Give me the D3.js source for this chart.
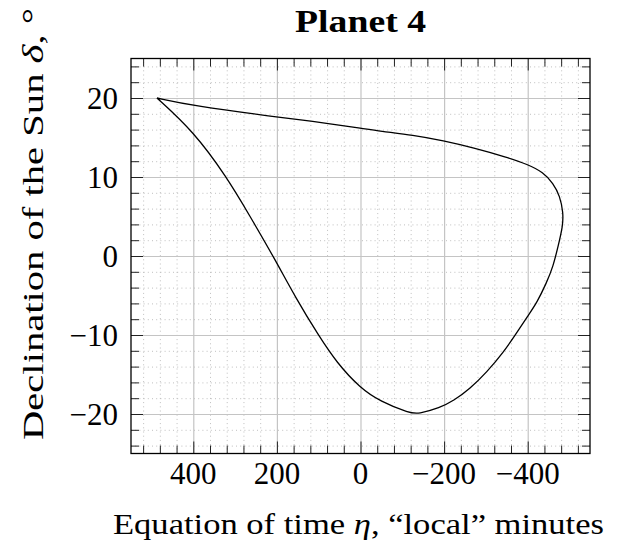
<!DOCTYPE html>
<html>
<head>
<meta charset="utf-8">
<script src="https://cdn.jsdelivr.net/npm/d3@7"></script>
<style>
  body { margin: 0; background: #fff; }
  svg { display: block; }
  text { font-family: "Liberation Serif", "DejaVu Serif", serif; fill: #000; }
</style>
</head>
<body>
<div id="chart"></div>
<script>
// analemma: equation of time (local minutes) vs solar declination (deg)
var etaMin = [487, 400, 320, 264, 209, 153, 101, 57, 1, -47, -118, -138, -190, -222, -262, -302, -342, -374,
              -400, -422, -445, -461, -473, -484, -485, -477, -461, -437, -400, -350, -270, -198, -126, -47, 2, 121, 201, 400, 487];
var declDeg = [20.0, 15.8, 10.0, 5.0, 0.0, -5.5, -10.0, -13.5, -16.7, -18.4, -19.9, -20.0, -19.2, -18.35, -16.8, -14.7, -12.2, -9.7,
               -7.6, -5.9, -3.4, -1.3, 1.3, 3.8, 5.5, 7.6, 9.2, 10.6, 11.6, 12.5, 13.7, 14.6, 15.3, 15.8, 16.2, 17.1, 17.6, 19.0, 20.0];

var xTicks = [400, 200, 0, -200, -400];
var xTickLabels = ['400', '200', '0', '\u2212200', '\u2212400'];
var yTicks = [-20, -10, 0, 10, 20];
var yTickLabels = ['\u221220', '\u221210', '0', '10', '20'];
var xMinor = [520, 480, 440, 360, 320, 280, 240, 160, 120, 80, 40, -40, -80, -120, -160,
              -240, -280, -320, -360, -440, -480, -520];
var yMinor = [-24, -22, -18, -16, -14, -12, -8, -6, -4, -2, 2, 4, 6, 8, 12, 14, 16, 18, 22, 24];

var W = 619, H = 542;
var L = 131, R = 590, T = 58.5, B = 453.5;

var x = d3.scaleLinear().domain([549, -549]).range([L, R]);
var y = d3.scaleLinear().domain([-25, 25]).range([B, T]);

var svg = d3.select('#chart').append('svg')
  .attr('width', W).attr('height', H);

// minor grid (dotted)
svg.append('g')
  .attr('transform', 'translate(0,' + B + ')')
  .call(d3.axisBottom(x).tickValues(xMinor).tickSize(-(B - T)).tickFormat(''))
  .call(function(g) {
    g.select('.domain').remove();
    g.selectAll('line').attr('stroke', '#b8b8b8').attr('stroke-width', 0.9).attr('stroke-dasharray', '1,3.2');
  });
svg.append('g')
  .attr('transform', 'translate(' + L + ',0)')
  .call(d3.axisLeft(y).tickValues(yMinor).tickSize(-(R - L)).tickFormat(''))
  .call(function(g) {
    g.select('.domain').remove();
    g.selectAll('line').attr('stroke', '#b8b8b8').attr('stroke-width', 0.9).attr('stroke-dasharray', '1,3.2');
  });

// major grid
svg.append('g')
  .attr('transform', 'translate(0,' + B + ')')
  .call(d3.axisBottom(x).tickValues(xTicks).tickSize(-(B - T)).tickFormat(''))
  .call(function(g) {
    g.select('.domain').remove();
    g.selectAll('line').attr('stroke', '#c4c4c4').attr('stroke-width', 1.2);
  });
svg.append('g')
  .attr('transform', 'translate(' + L + ',0)')
  .call(d3.axisLeft(y).tickValues(yTicks).tickSize(-(R - L)).tickFormat(''))
  .call(function(g) {
    g.select('.domain').remove();
    g.selectAll('line').attr('stroke', '#c4c4c4').attr('stroke-width', 1.2);
  });

// the curve
var line = d3.line()
  .x(function(d) { return x(d[0]); })
  .y(function(d) { return y(d[1]); })
  .curve(d3.curveBasis);

svg.append('path')
  .datum(d3.zip(etaMin, declDeg))
  .attr('d', line)
  .attr('fill', 'none')
  .attr('stroke', '#000')
  .attr('stroke-width', 1.3)
  .attr('stroke-linejoin', 'miter');

// inward ticks on all four sides
function tickStyle(g) {
  g.select('.domain').remove();
  g.selectAll('line').attr('stroke', '#222').attr('stroke-width', 1);
}
[[d3.axisBottom, B, xTicks, 12], [d3.axisBottom, B, xMinor, 8],
 [d3.axisTop, T, xTicks, 12], [d3.axisTop, T, xMinor, 8]].forEach(function(a) {
  svg.append('g')
    .attr('transform', 'translate(0,' + a[1] + ')')
    .call(a[0](x).tickValues(a[2]).tickSize(-a[3]).tickFormat(''))
    .call(tickStyle);
});
[[d3.axisLeft, L, yTicks, 12], [d3.axisLeft, L, yMinor, 8],
 [d3.axisRight, R, yTicks, 12], [d3.axisRight, R, yMinor, 8]].forEach(function(a) {
  svg.append('g')
    .attr('transform', 'translate(' + a[1] + ',0)')
    .call(a[0](y).tickValues(a[2]).tickSize(-a[3]).tickFormat(''))
    .call(tickStyle);
});

// axis box
svg.append('rect')
  .attr('x', L).attr('y', T)
  .attr('width', R - L).attr('height', B - T)
  .attr('fill', 'none').attr('stroke', '#000').attr('stroke-width', 1.3);

// tick labels
svg.append('g').selectAll('text')
  .data(xTicks)
  .enter().append('text')
  .attr('x', function(d) { return x(d); })
  .attr('y', 484)
  .attr('text-anchor', 'middle')
  .style('font-size', '31px')
  .text(function(d, i) { return xTickLabels[i]; });

svg.append('g').selectAll('text')
  .data(yTicks)
  .enter().append('text')
  .attr('x', 118)
  .attr('y', function(d) { return y(d) + 10.5; })
  .attr('text-anchor', 'end')
  .style('font-size', '31px')
  .text(function(d, i) { return yTickLabels[i]; });

// labels
svg.append('text')
  .attr('x', 360.5).attr('y', 32)
  .attr('text-anchor', 'middle')
  .attr('textLength', 131).attr('lengthAdjust', 'spacingAndGlyphs')
  .style('font-size', '32px').style('font-weight', 'bold')
  .text('Planet 4');

svg.append('text')
  .attr('x', 113).attr('y', 534)
  .attr('textLength', 491).attr('lengthAdjust', 'spacingAndGlyphs')
  .style('font-size', '30px')
  .html('Equation of time <tspan font-style="italic">\u03b7</tspan>, \u201clocal\u201d minutes');

svg.append('text')
  .attr('transform', 'translate(43,440) rotate(-90)')
  .attr('textLength', 432).attr('lengthAdjust', 'spacingAndGlyphs')
  .style('font-size', '30px')
  .html('Declination of the Sun <tspan font-style="italic">\u03b4</tspan>, \u00b0');
</script>
</body>
</html>
